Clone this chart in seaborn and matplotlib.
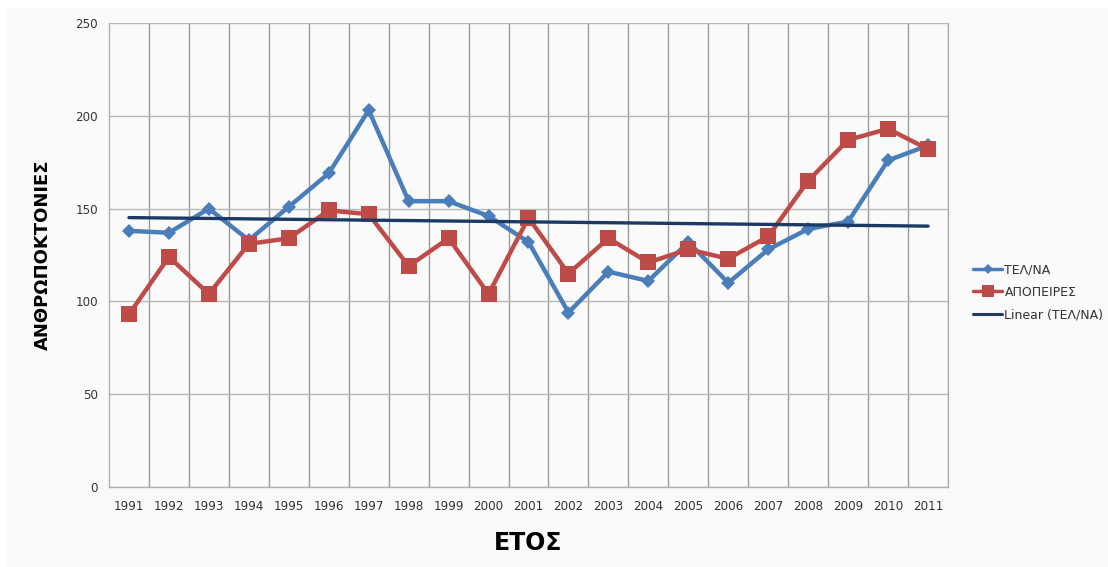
import numpy as np
import pandas as pd
import seaborn as sns
import matplotlib
matplotlib.use("Agg")
import matplotlib.pyplot as plt
from matplotlib.patches import Rectangle
from matplotlib.lines import Line2D

years = [str(y) for y in range(1991, 2012)]
tel_na = [138, 137, 150, 133, 151, 169, 203, 154, 154, 146, 132, 94, 116, 111, 132, 110, 128, 139, 143, 176, 184]
apopeires = [93, 124, 104, 131, 134, 149, 147, 119, 134, 104, 145, 115, 134, 121, 128, 123, 135, 165, 187, 193, 182]
series_names = ["ΤΕΛ/ΝΑ", "ΑΠΟΠΕΙΡΕΣ"]
trend_name = "Linear (ΤΕΛ/ΝΑ)"
y_ticks = [0, 50, 100, 150, 200, 250]

sns.set_style("white")
plt.rcParams['font.family'] = ['DejaVu Sans']

fig = plt.figure(figsize=(11.08, 5.67), dpi=100, facecolor="white")
fig.patches.append(Rectangle((6/1108, 0), 1 - 6/1108, 1 - 8/567, transform=fig.transFigure,
                             facecolor="#fafafa", edgecolor="none", zorder=-10))
ax = fig.add_axes([109/1108, 1 - 487/567, (948-109)/1108, (487-23)/567])
ax.set_facecolor("#fafafa")

x = np.arange(len(years))
df = pd.DataFrame({"x": np.concatenate([x, x]),
                   "value": tel_na + apopeires,
                   "series": [series_names[0]]*len(x) + [series_names[1]]*len(x)})

blue = "#4a7ebb"
red = "#be4b48"
navy = "#1c3a64"

sns.lineplot(data=df[df.series == series_names[0]], x="x", y="value", ax=ax, color=blue,
             lw=3.2, marker="D", markersize=7, markeredgewidth=0, legend=False, zorder=3)
sns.lineplot(data=df[df.series == series_names[1]], x="x", y="value", ax=ax, color=red,
             lw=3.2, marker="s", markersize=11, markeredgewidth=0, legend=False, zorder=4)

coef = np.polyfit(x, tel_na, 1)
trend = np.polyval(coef, x)
sns.lineplot(x=x, y=trend, ax=ax, color=navy, lw=2.4, legend=False, zorder=5)

ax.set_xlim(-0.5, len(years) - 0.5)
ax.set_ylim(0, 250)
ax.set_yticks(y_ticks)
ax.set_xticks(x)
ax.set_xticklabels(years)
ax.set_xticks(np.arange(len(years)) + 0.5, minor=True)
ax.tick_params(axis="x", which="both", length=0, pad=9, labelsize=8.6, colors="#333333")
ax.tick_params(axis="y", length=4, width=1, color="#aaaaaa", pad=4, labelsize=8.6, labelcolor="#333333")
ax.grid(False)
ax.grid(axis="x", which="minor", color="#9a9a9a", lw=1)
ax.grid(axis="y", which="major", color="#b8b8b8", lw=1)
for s in ["left", "bottom", "top", "right"]:
    ax.spines[s].set_color("#b0b0b0")
    ax.spines[s].set_linewidth(1)
ax.spines["top"].set_visible(False)

ax.set_xlabel("")
ax.set_ylabel("")
fig.text(43/1108, 1 - 255/567, "ΑΝΘΡΩΠΟΚΤΟΝΙΕΣ", rotation=90, ha="center", va="center",
         fontsize=13, fontweight="heavy", color="black")
fig.text(528/1108, 1 - 543/567, "ΕΤΟΣ", ha="center", va="center",
         fontsize=17, fontweight="heavy", color="black")

handles = [Line2D([], [], color=blue, lw=2.5, marker="D", markersize=5, markeredgewidth=0),
           Line2D([], [], color=red, lw=2.5, marker="s", markersize=8, markeredgewidth=0),
           Line2D([], [], color=navy, lw=2.2)]
leg = fig.legend(handles, series_names + [trend_name], loc="upper left",
                 bbox_to_anchor=(962/1108, 1 - 252/567), frameon=False, fontsize=9,
                 handlelength=2.3, handletextpad=0.2, labelspacing=0.75)
for t in leg.get_texts():
    t.set_color("#333333")

fig.savefig("out.png", dpi=100, facecolor="white")
